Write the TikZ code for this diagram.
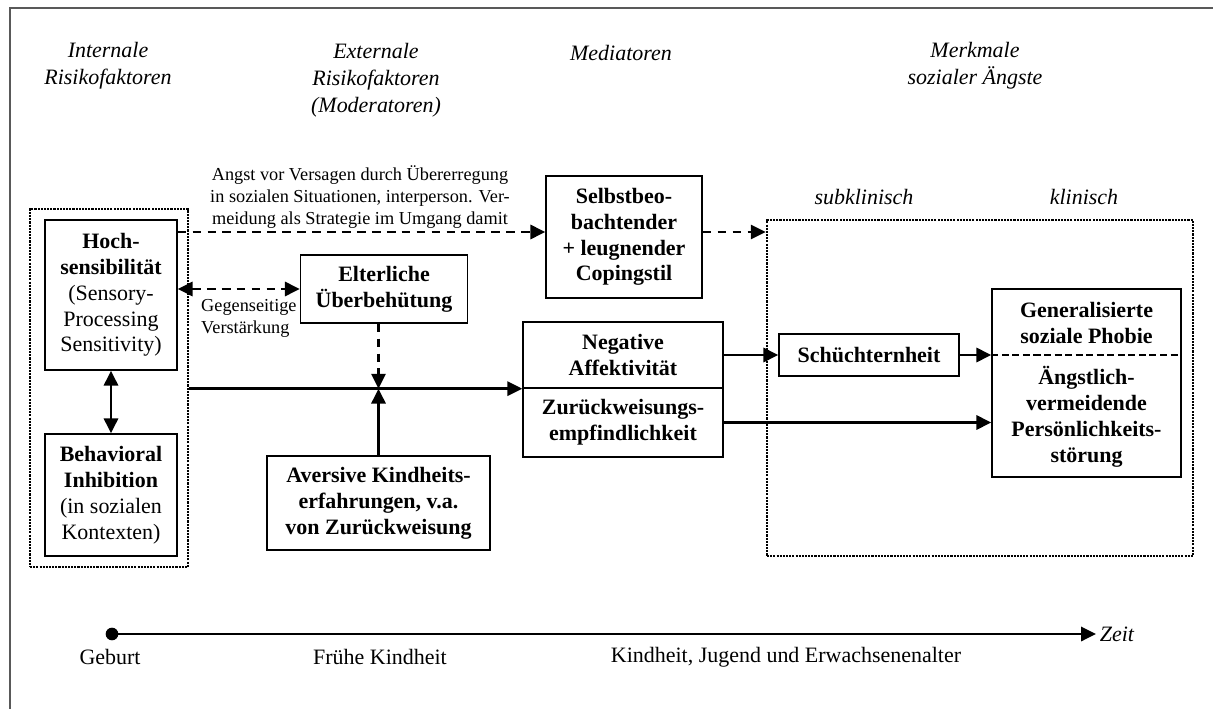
\documentclass[tikz,border=0pt]{standalone}
\usepackage{fontspec}
\setmainfont{Liberation Serif}
\usepackage{tikz}
\usetikzlibrary{arrows.meta}

\begin{document}
\begin{tikzpicture}[x=0.02cm, y=-0.02cm,
    box/.style={draw, line width=0.8pt, align=center, inner sep=0pt, font=\fontsize{12.5}{14.7}\selectfont},
    bbox/.style={box, font=\fontsize{12.5}{14.7}\selectfont\bfseries},
    dotbox/.style={draw, line width=1.5pt, dash pattern=on 1.2pt off 0.6pt, inner sep=0pt},
    head/.style={align=center, font=\fontsize{12.5}{15.3}\selectfont\itshape},
    lbl/.style={align=center, font=\fontsize{10.4}{12.6}\selectfont},
    tl/.style={font=\fontsize{12.5}{14.7}\selectfont},
    arr/.style={line width=1.7pt, -{Triangle[length=8.5pt,width=8pt]}},
    darr/.style={line width=1.7pt, {Triangle[length=8.5pt,width=8pt]}-{Triangle[length=8.5pt,width=8pt]}},
    dasharr/.style={arr, dash pattern=on 5pt off 3.5pt},
    dashdarr/.style={darr, dash pattern=on 5pt off 3.5pt}]
  \useasboundingbox (0,0) rectangle (1213,709);
  \draw[line width=0.8pt, black!65] (10,709) -- (10,8) -- (1213,8);

  \node[head] (hint) at (108,66) {Internale\\Risikofaktoren};
  \node[head] (hext) at (376,80) {Externale\\Risikofaktoren\\(Moderatoren)};
  \node[head] (hmed) at (621,53) {Mediatoren};
  \node[head] (hmerk) at (975,66) {Merkmale\\sozialer Ängste};
  \node[head] (hsub) at (864,197) {subklinisch};
  \node[head] (hkli) at (1084,197) {klinisch};

  \node[dotbox, minimum width=3.16cm, minimum height=7.16cm] (intern) at (109,388) {};
  \node[dotbox, minimum width=8.52cm, minimum height=6.72cm] (merkmal) at (980,388) {};

  \node[box, minimum width=2.64cm, minimum height=3.0cm] (hoch) at (111,295)
    {\textbf{Hoch-}\\\textbf{sensibilität}\\(Sensory-\\Processing\\Sensitivity)};
  \node[box, minimum width=2.64cm, minimum height=2.44cm] (behav) at (111,495)
    {\textbf{Behavioral}\\\textbf{Inhibition}\\(in sozialen\\Kontexten)};
  \node[bbox, minimum width=3.34cm, minimum height=1.36cm] (eltern) at (384,289)
    {Elterliche\\Überbehütung};
  \node[bbox, minimum width=3.12cm, minimum height=2.44cm] (selbst) at (624,237)
    {Selbstbeo-\\bachtender\\+ leugnender\\Copingstil};
  \node[bbox, minimum width=4.0cm, minimum height=1.32cm] (negaff) at (623,355)
    {Negative\\Affektivität};
  \node[bbox, minimum width=4.0cm, minimum height=1.38cm] (zurueck) at (623,422.5)
    {Zurückweisungs-\\empfindlichkeit};
  \node[bbox, minimum width=4.46cm, minimum height=1.88cm] (aversiv) at (378.5,503)
    {Aversive Kindheits-\\erfahrungen, v.a.\\von Zurückweisung};
  \node[bbox, minimum width=3.6cm, minimum height=0.84cm] (schuecht) at (869,355)
    {Schüchternheit};
  \node[box, minimum width=3.78cm, minimum height=3.76cm] (gen) at (1086.5,383) {};
  \node[bbox, draw=none] (genphob) at (1086.5,323)
    {Generalisierte\\soziale Phobie};
  \node[bbox, draw=none] (avpd) at (1086.5,417)
    {Ängstlich-\\vermeidende\\Persönlichkeits-\\störung};
  \draw[line width=0.7pt, dash pattern=on 4pt off 2pt] (schuecht -| gen.west) -- (schuecht -| gen.east);

  \node[lbl] (angst) at (360,197)
    {Angst vor Versagen durch Übererregung\\in sozialen Situationen, interperson. Ver-\\meidung als Strategie im Umgang damit};
  \node[lbl, align=left, anchor=west] (gegen) at (195,318) {Gegenseitige\\Verstärkung};

  \coordinate (lvl) at (0,232);
  \coordinate (knot) at (aversiv.north |- negaff.south);
  \draw[dasharr] (hoch.east |- lvl) -- (selbst.west |- lvl);
  \draw[dasharr] (selbst.east |- lvl) -- (merkmal.west |- lvl);
  \draw[dashdarr] (hoch.east |- eltern.west) -- (eltern.west);
  \draw[darr] (hoch.south) -- (behav.north);
  \draw[arr] (intern.east |- negaff.south west) -- (negaff.south west);
  \draw[dasharr] (eltern.south -| knot) -- (knot);
  \draw[arr] (aversiv.north) -- (knot);
  \draw[arr] (negaff.east |- schuecht) -- (schuecht.west);
  \draw[arr] (schuecht.east) -- (schuecht -| gen.west);
  \draw[arr] (zurueck.east) -- (zurueck -| gen.west);

  \fill (112,634) circle (3.6pt) coordinate (geburt);
  \coordinate (zeitend) at (1096,634);
  \draw[arr] (geburt) -- (zeitend);
  \node[head, anchor=west, inner sep=2pt] (zeit) at (zeitend) {Zeit};
  \node[tl] (tgeb) at (110,657) {Geburt};
  \node[tl] (tfrueh) at (380,657) {Frühe Kindheit};
  \node[tl] (tkind) at (786,657) {Kindheit, Jugend und Erwachsenenalter};
\end{tikzpicture}
\end{document}
